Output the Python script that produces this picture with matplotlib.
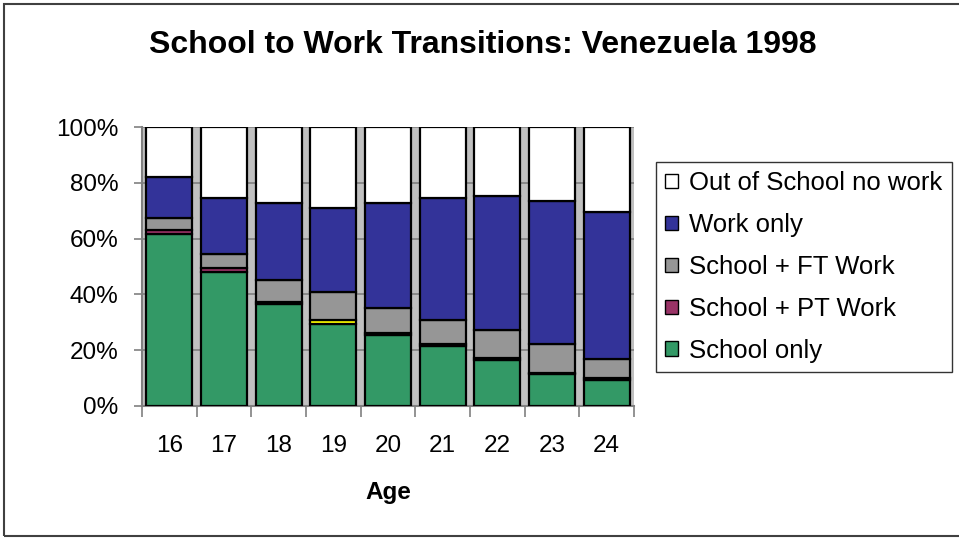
import numpy as np
import matplotlib.pyplot as plt
from matplotlib.patches import Rectangle

plt.rcParams['font.family'] = ['Liberation Sans', 'DejaVu Sans']

ages = ['16', '17', '18', '19', '20', '21', '22', '23', '24']

# shares in percent, bottom to top
school_only = [61.6, 48.0, 36.6, 29.3, 25.4, 21.4, 16.4, 11.4, 9.2]
school_pt = [1.5, 1.6, 0.8, 1.5, 0.6, 0.8, 0.8, 0.3, 0.9]
school_ft = [4.4, 4.9, 7.8, 10.0, 9.2, 8.7, 10.0, 10.5, 6.6]
work_only = [14.4, 20.1, 27.4, 30.3, 37.4, 43.8, 48.2, 51.2, 53.0]
out_no_work = [18.1, 25.4, 27.4, 28.9, 27.4, 25.3, 24.6, 26.6, 30.3]

labels = ['School only', 'School + PT Work', 'School + FT Work',
          'Work only', 'Out of School no work']
colors = ['#339966', '#993366', '#969696', '#333399', '#FFFFFF']
# age 19 part-time segment is drawn in yellow
pt_colors = ['#993366'] * 9
pt_colors[3] = '#FFFF00'

series = [school_only, school_pt, school_ft, work_only, out_no_work]

fig = plt.figure(figsize=(9.59, 5.38), dpi=100)
ax = fig.add_axes([142 / 959, 1 - 406 / 538, (634 - 142) / 959, (406 - 127) / 538])
ax.set_facecolor('#C0C0C0')

x = np.arange(len(ages))
bottom = np.zeros(len(ages))
handles = []
for i, (vals, lab, col) in enumerate(zip(series, labels, colors)):
    fc = pt_colors if i == 1 else col
    ax.bar(x, vals, width=0.84, bottom=bottom, color=fc,
           edgecolor='black', linewidth=1.6, zorder=3)
    handles.append(Rectangle((0, 0), 1, 1, facecolor=col, edgecolor='black', linewidth=1))
    bottom += np.array(vals)

ax.set_xlim(-0.5, len(ages) - 0.5)
ax.set_ylim(0, 100)
ax.set_yticks(np.arange(0, 101, 20))
ax.set_yticklabels([f'{v}%' for v in range(0, 101, 20)], fontsize=17.5)
ax.yaxis.grid(True, color='#808080', linewidth=1.2, zorder=0)
ax.set_axisbelow(True)

ax.set_xticks(x)
ax.set_xticklabels(ages, fontsize=17.5)
ax.set_xticks(np.arange(-0.5, len(ages)), minor=True)
ax.tick_params(axis='x', which='major', length=0, pad=21)
ax.tick_params(axis='x', which='minor', length=8, color='#808080', width=1.2)
ax.tick_params(axis='y', length=6, color='#808080', width=1.2, pad=11)

for side in ['top', 'right']:
    ax.spines[side].set_visible(False)
ax.spines['left'].set_color('#808080')
ax.spines['bottom'].set_color('#808080')
ax.spines['left'].set_linewidth(1.5)
ax.spines['bottom'].set_linewidth(1.5)

ax.set_xlabel('Age', fontsize=17.5, fontweight='bold', labelpad=17)

fig.text(483 / 959, 1 - 45 / 538, 'School to Work Transitions: Venezuela 1998',
         ha='center', va='center', fontsize=23, fontweight='bold')

leg = fig.legend(handles[::-1], labels[::-1], loc='upper left',
                 bbox_to_anchor=(656 / 959, 1 - 162 / 538), fontsize=18.5,
                 frameon=True, fancybox=False, handlelength=0.5, handleheight=0.5,
                 handletextpad=0.45, labelspacing=0.7, borderpad=0.35,
                 borderaxespad=0)
leg.get_frame().set_edgecolor('black')
leg.get_frame().set_linewidth(1.0)

# outer chart border
fig.patches.append(Rectangle((4 / 959, 2 / 538), 1.0, 1 - 6 / 538,
                             transform=fig.transFigure, fill=False,
                             edgecolor='#404040', linewidth=1.5))

fig.savefig('out.png', dpi=100)
